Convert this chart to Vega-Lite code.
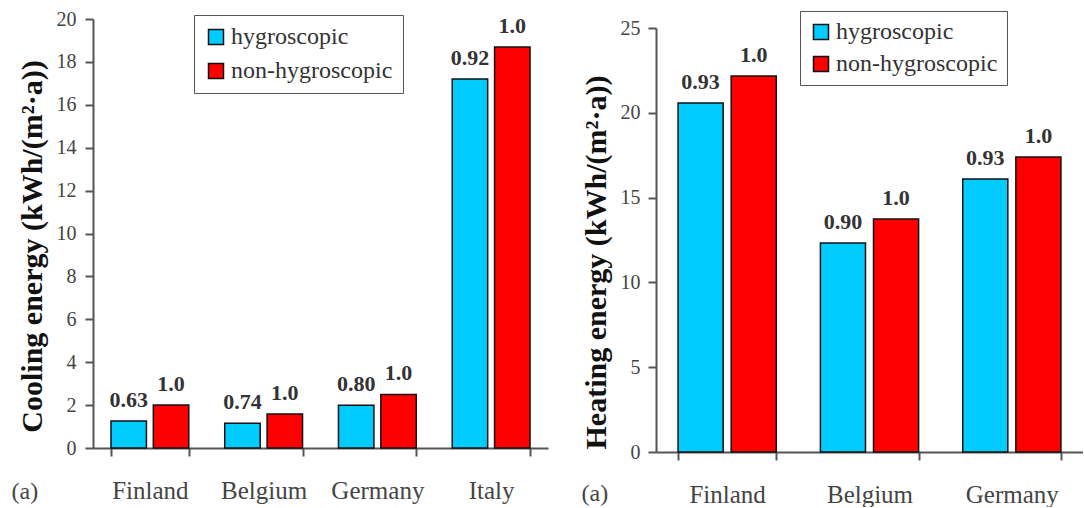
{
  "$schema": "https://vega.github.io/schema/vega-lite/v6.json",
  "background": "white",
  "padding": {"left": 11, "top": 9, "right": 0, "bottom": 0},
  "datasets": {
    "cooling": [
      {"country": "Finland", "type": "hygroscopic", "value": 1.26, "label": "0.63"},
      {"country": "Finland", "type": "non-hygroscopic", "value": 2.0, "label": "1.0"},
      {"country": "Belgium", "type": "hygroscopic", "value": 1.15, "label": "0.74"},
      {"country": "Belgium", "type": "non-hygroscopic", "value": 1.58, "label": "1.0"},
      {"country": "Germany", "type": "hygroscopic", "value": 1.99, "label": "0.80"},
      {"country": "Germany", "type": "non-hygroscopic", "value": 2.5, "label": "1.0"},
      {"country": "Italy", "type": "hygroscopic", "value": 17.2, "label": "0.92"},
      {"country": "Italy", "type": "non-hygroscopic", "value": 18.7, "label": "1.0"}
    ],
    "heating": [
      {"country": "Finland", "type": "hygroscopic", "value": 20.58, "label": "0.93"},
      {"country": "Finland", "type": "non-hygroscopic", "value": 22.17, "label": "1.0"},
      {"country": "Belgium", "type": "hygroscopic", "value": 12.32, "label": "0.90"},
      {"country": "Belgium", "type": "non-hygroscopic", "value": 13.74, "label": "1.0"},
      {"country": "Germany", "type": "hygroscopic", "value": 16.1, "label": "0.93"},
      {"country": "Germany", "type": "non-hygroscopic", "value": 17.4, "label": "1.0"}
    ]
  },
  "spacing": 33,
  "resolve": {"scale": {"color": "independent", "xOffset": "independent", "x": "independent", "y": "independent"}},
  "hconcat": [
    {
      "width": 455,
      "height": 429,
      "data": {"name": "cooling"},
      "encoding": {
        "x": {
          "field": "country", "type": "nominal",
          "sort": ["Finland", "Belgium", "Germany", "Italy"],
          "scale": {"paddingInner": 0.316, "paddingOuter": 0.158},
          "axis": {
            "title": "(a)", "titleX": -82, "titleY": 50, "titleAnchor": "start", "titleAlign": "left", "titleBaseline": "alphabetic",
            "titleFontWeight": "normal", "titleFontSize": 24, "titleColor": "#444",
            "labelAngle": 0, "labelFontSize": 25, "labelPadding": 22, "tickSize": 8, "tickBand": "extent"
          }
        },
        "xOffset": {"field": "type", "type": "nominal", "sort": ["hygroscopic", "non-hygroscopic"], "scale": {"paddingInner": 0.163, "paddingOuter": 0}},
        "y": {
          "field": "value", "type": "quantitative",
          "scale": {"domain": [0, 20]},
          "axis": {
            "title": "Cooling energy (kWh/(m²·a))", "titleFontSize": 30, "titleFontWeight": "bold", "titlePadding": 9, "titleY": 227,
            "values": [0, 2, 4, 6, 8, 10, 12, 14, 16, 18, 20], "labelFontSize": 20, "labelPadding": 9, "tickSize": 8
          }
        }
      },
      "layer": [
        {
          "mark": {"type": "bar", "stroke": "#111", "strokeWidth": 1.5},
          "encoding": {
            "color": {
              "field": "type", "type": "nominal",
              "scale": {"domain": ["hygroscopic", "non-hygroscopic"], "range": ["#00ccff", "#ff0000"]},
              "legend": {
                "title": null, "orient": "none", "legendX": 101, "legendY": -4,
                "strokeColor": "#555", "padding": 10, "rowPadding": 10, "labelLimit": 400,
                "symbolType": "square", "symbolSize": 225, "symbolStrokeColor": "#111", "symbolStrokeWidth": 1.5,
                "labelFontSize": 24, "labelColor": "#333", "labelFont": "Liberation Serif", "labelOffset": 3
              }
            }
          }
        },
        {
          "mark": {"type": "text", "baseline": "alphabetic", "dy": -14, "fontSize": 22, "fontWeight": "bold", "color": "#333", "font": "Liberation Serif"},
          "encoding": {"text": {"field": "label"}}
        }
      ]
    },
    {
      "width": 427,
      "height": 433,
      "data": {"name": "heating"},
      "encoding": {
        "x": {
          "field": "country", "type": "nominal",
          "sort": ["Finland", "Belgium", "Germany"],
          "scale": {"paddingInner": 0.31, "paddingOuter": 0.155},
          "axis": {
            "title": "(a)", "titleX": -75, "titleY": 48, "titleAnchor": "start", "titleAlign": "left", "titleBaseline": "alphabetic",
            "titleFontWeight": "normal", "titleFontSize": 24, "titleColor": "#444",
            "labelAngle": 0, "labelFontSize": 25, "labelPadding": 22, "tickSize": 8, "tickBand": "extent"
          }
        },
        "xOffset": {"field": "type", "type": "nominal", "sort": ["hygroscopic", "non-hygroscopic"], "scale": {"paddingInner": 0.151, "paddingOuter": 0}},
        "y": {
          "field": "value", "type": "quantitative",
          "scale": {"domain": [0, 25], "range": [433, 9]},
          "axis": {
            "title": "Heating energy (kWh/(m²·a))", "titleFontSize": 30, "titleFontWeight": "bold", "titlePadding": 9, "titleY": 243,
            "values": [0, 5, 10, 15, 20, 25], "labelFontSize": 20, "labelPadding": 8, "tickSize": 8
          }
        }
      },
      "layer": [
        {
          "mark": {"type": "bar", "stroke": "#111", "strokeWidth": 1.5},
          "encoding": {
            "color": {
              "field": "type", "type": "nominal",
              "scale": {"domain": ["hygroscopic", "non-hygroscopic"], "range": ["#00ccff", "#ff0000"]},
              "legend": {
                "title": null, "orient": "none", "legendX": 144, "legendY": -8,
                "strokeColor": "#555", "padding": 9, "rowPadding": 8, "labelLimit": 400,
                "symbolType": "square", "symbolSize": 225, "symbolStrokeColor": "#111", "symbolStrokeWidth": 1.5,
                "labelFontSize": 24, "labelColor": "#333", "labelFont": "Liberation Serif", "labelOffset": 3
              }
            }
          }
        },
        {
          "mark": {"type": "text", "baseline": "alphabetic", "dy": -14, "fontSize": 22, "fontWeight": "bold", "color": "#333", "font": "Liberation Serif"},
          "encoding": {"text": {"field": "label"}}
        }
      ]
    }
  ],
  "config": {
    "font": "Liberation Serif",
    "view": {"stroke": null},
    "axis": {
      "grid": false, "domainColor": "#555", "tickColor": "#555", "domainWidth": 2, "tickWidth": 2,
      "labelColor": "#444", "titleColor": "#111", "labelFont": "Liberation Serif", "titleFont": "Liberation Serif"
    }
  }
}
